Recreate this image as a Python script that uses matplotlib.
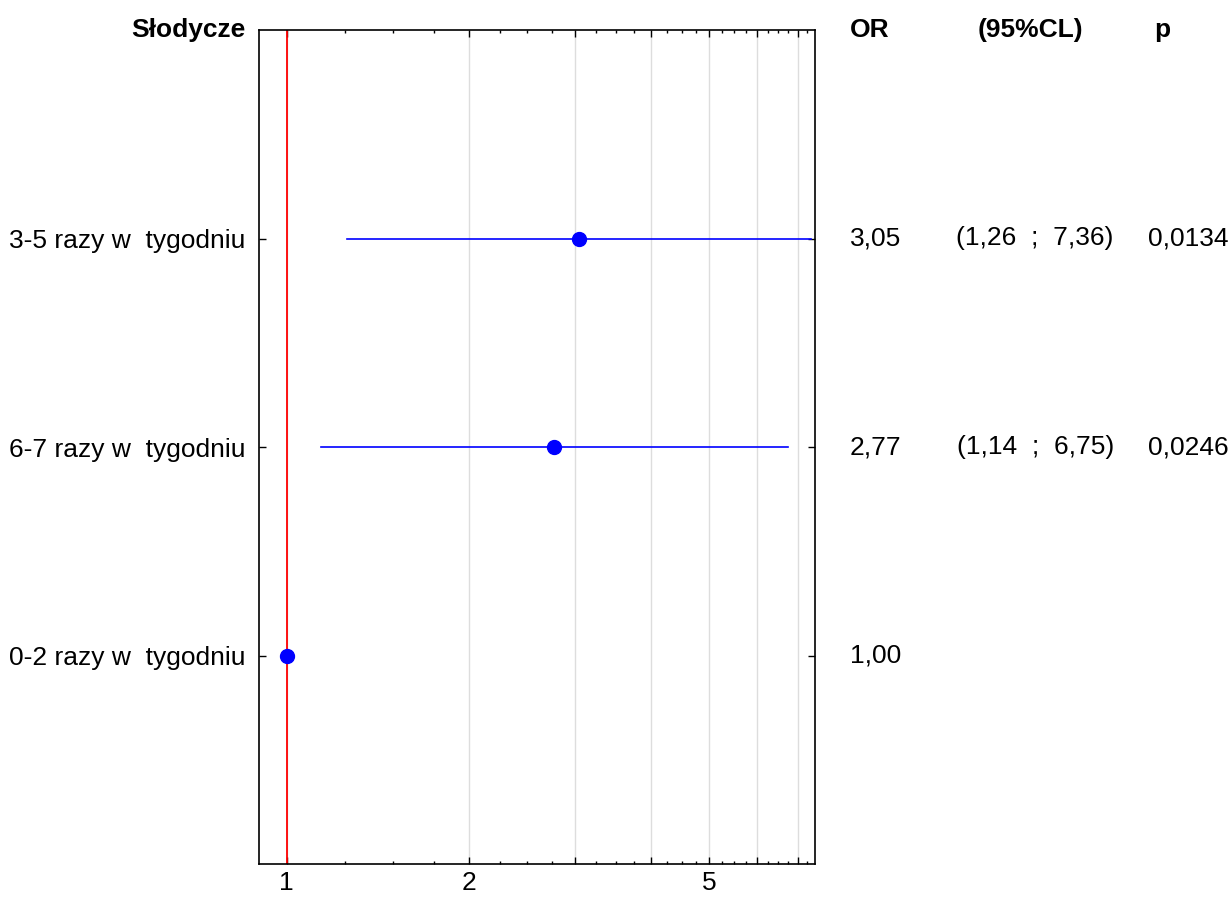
import numpy as np
import matplotlib
matplotlib.use('Agg')
import matplotlib.pyplot as plt

plt.rcParams['font.family'] = ['Liberation Sans', 'DejaVu Sans']

# dane
categories = ['3-5 razy w  tygodniu', '6-7 razy w  tygodniu', '0-2 razy w  tygodniu']
positions = [3, 2, 1]
odds = [3.05, 2.77, 1.00]
ci_low = [1.26, 1.14, np.nan]
ci_high = [7.36, 6.75, np.nan]
or_text = ['3,05', '2,77', '1,00']
ci_text = ['(1,26  ;  7,36)', '(1,14  ;  6,75)', '']
p_text = ['0,0134', '0,0246', '']

fig = plt.figure(figsize=(12.32, 9.02), dpi=100)
ax = fig.add_axes([259 / 1232, 1 - 864 / 902, 556 / 1232, 834 / 902])

# przedzialy ufnosci i punkty
for y, lo, hi in zip(positions, ci_low, ci_high):
    if not np.isnan(lo):
        ax.plot([lo, hi], [y, y], color='blue', lw=1.2, zorder=3)
ax.plot(odds, positions, 'o', color='blue', ms=10, zorder=4)
ax.axvline(1, color='red', lw=1.3, zorder=2)

ax.set_xscale('log')
ax.set_xlim(0.9, 7.48)
ax.set_ylim(0, 4)

ax.set_xticks([1, 2, 3, 4, 5, 6, 7], labels=['1', '2', '', '', '5', '', ''])
minor = [v for v in np.arange(1.25, 7.5, 0.25) if v % 1 != 0]
ax.set_xticks(minor, minor=True)
ax.xaxis.set_minor_formatter(plt.NullFormatter())
ax.set_yticks(positions, labels=categories)

ax.grid(axis='x', which='major', color='#dddddd', lw=1, zorder=1)
ax.tick_params(which='both', direction='in', top=True, right=True, labelsize=19, width=1)
ax.tick_params(which='major', length=5)
ax.tick_params(which='minor', length=2.5)
ax.tick_params(axis='y', pad=10)
ax.tick_params(axis='x', pad=5)
for s in ax.spines.values():
    s.set_linewidth(1.2)

# kolumny z tekstem
tr = ax.get_yaxis_transform()
ax.text(-0.025, 4, 'Słodycze', transform=tr, ha='right', va='center',
        fontsize=19, fontweight='bold')
ax.text(1.063, 4, 'OR', transform=tr, ha='left', va='center', fontsize=19, fontweight='bold')
ax.text(1.388, 4, '(95%CL)', transform=tr, ha='center', va='center', fontsize=19, fontweight='bold')
ax.text(1.610, 4, 'p', transform=tr, ha='left', va='center', fontsize=19, fontweight='bold')
for y, a, b, c in zip(positions, or_text, ci_text, p_text):
    ax.text(1.063, y, a, transform=tr, ha='left', va='center', fontsize=19)
    ax.text(1.396, y, b, transform=tr, ha='center', va='center', fontsize=19)
    ax.text(1.599, y, c, transform=tr, ha='left', va='center', fontsize=19)

plt.savefig('out.png', dpi=100)
